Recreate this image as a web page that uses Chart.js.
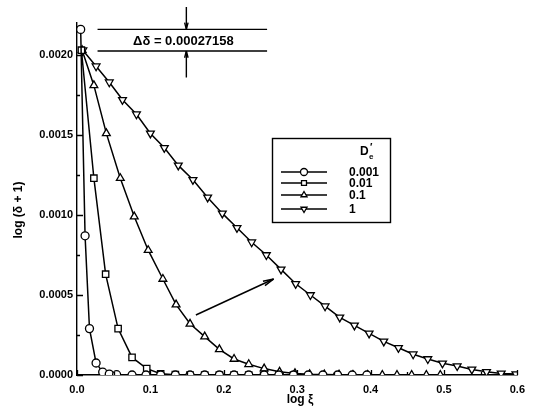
<!DOCTYPE html>
<html>
<head>
<meta charset="utf-8">
<script src="https://cdn.jsdelivr.net/npm/chart.js@4.4.1/dist/chart.umd.min.js"></script>
<style>
  html, body { margin: 0; padding: 0; background: #fff; }
  #wrap { width: 533px; height: 419px; }
</style>
</head>
<body>
<div id="wrap"><canvas id="chart" width="533" height="419"></canvas></div>
<script>
// D_e' = 0.001 (circles)
const xCircle = [0.005, 0.011, 0.017, 0.026, 0.035, 0.044, 0.054, 0.075, 0.094, 0.114, 0.134, 0.154, 0.174, 0.194, 0.214, 0.234, 0.255, 0.275, 0.295, 0.315, 0.335, 0.355, 0.375, 0.395];
const yCircle = [0.00216, 0.00087, 0.00029, 0.000075, 0.000018, 0.000006, 0.000002, 0, 0, 0, 0, 0, 0, 0, 0, 0, 0, 0, 0, 0, 0, 0, 0, 0];

// D_e' = 0.01 (squares)
const xSquare = [0.006, 0.023, 0.039, 0.056, 0.075, 0.095, 0.114, 0.134, 0.154, 0.174, 0.194, 0.214, 0.234, 0.255, 0.275, 0.295];
const ySquare = [0.00203, 0.00123, 0.00063, 0.00029, 0.00011, 0.00004, 0.000008, 0.000002, 0, 0, 0, 0, 0, 0, 0, 0];

// D_e' = 0.1 (triangles)
const xTri = [0.007, 0.023, 0.040, 0.059, 0.078, 0.097, 0.117, 0.135, 0.154, 0.174, 0.194, 0.214, 0.234, 0.255, 0.276, 0.297, 0.317, 0.337, 0.357, 0.376, 0.396, 0.416, 0.436, 0.456, 0.476, 0.495];
const yTri = [0.00203, 0.00181, 0.00151, 0.00123, 0.00099, 0.00078, 0.00060, 0.00044, 0.00032, 0.00024, 0.00016, 0.00010, 0.000067, 0.00004, 0.00002, 0.00001, 0.000005, 0.000003, 0.000002, 0, 0, 0, 0, 0, 0, 0];

// D_e' = 1 (inverted triangles)
const xInv = [0.008, 0.026, 0.044, 0.062, 0.081, 0.100, 0.119, 0.138, 0.158, 0.178, 0.198, 0.218, 0.238, 0.258, 0.278, 0.298, 0.318, 0.338, 0.358, 0.378, 0.398, 0.418, 0.438, 0.458, 0.478, 0.498, 0.518, 0.538, 0.558, 0.578, 0.598];
const yInv = [0.00203, 0.00193, 0.00183, 0.00172, 0.00163, 0.00151, 0.00142, 0.00131, 0.00122, 0.00111, 0.00101, 0.00092, 0.00083, 0.00075, 0.00066, 0.00057, 0.00050, 0.00043, 0.00036, 0.00031, 0.00026, 0.00021, 0.00017, 0.00013, 0.00010, 0.000073, 0.000056, 0.000035, 0.00002, 0.00001, 0.000006];

const seriesLabels = ['0.001', '0.01', '0.1', '1'];
const xTicks = [0, 0.1, 0.2, 0.3, 0.4, 0.5, 0.6];
const yTicks = [0, 0.0005, 0.0010, 0.0015, 0.0020];

const deltaText = 'Δδ = 0.00027158';
const deltaTop = 0.00216;
const deltaBottom = 0.002025;

const FONT = "'Liberation Sans', Arial, sans-serif";
Chart.defaults.font.family = FONT;
Chart.defaults.font.size = 11;
Chart.defaults.font.weight = 'bold';
Chart.defaults.color = '#000';

const toPoints = (xs, ys) => xs.map((x, i) => ({ x: x, y: ys[i] }));

const mkSet = (label, xs, ys, style, radius, rotation) => ({
    label: label,
    data: toPoints(xs, ys),
    showLine: true,
    borderColor: '#000',
    borderWidth: 1.5,
    tension: 0,
    pointStyle: style,
    pointRadius: radius,
    pointRotation: rotation || 0,
    pointBackgroundColor: '#fff',
    pointBorderColor: '#000',
    pointBorderWidth: 1.3
});

const drawMarker = (ctx, ds, r, x, y) => {
    Chart.helpers.drawPoint(ctx, {
        pointStyle: ds.pointStyle, radius: r, rotation: ds.pointRotation, borderWidth: 1.2
    }, x, y);
};

const arrowHead = (ctx, x1, y1, x2, y2, len, spread) => {
    const a = Math.atan2(y2 - y1, x2 - x1);
    ctx.beginPath();
    ctx.moveTo(x2, y2);
    ctx.lineTo(x2 - len * Math.cos(a - spread), y2 - len * Math.sin(a - spread));
    ctx.moveTo(x2, y2);
    ctx.lineTo(x2 - len * Math.cos(a + spread), y2 - len * Math.sin(a + spread));
    ctx.stroke();
};

const decorations = {
    id: 'decorations',
    afterDatasetsDraw(chart) {
        const ctx = chart.ctx;
        const xs = chart.scales.x, ys = chart.scales.y;
        const area = chart.chartArea;
        ctx.save();
        ctx.strokeStyle = '#000';
        ctx.fillStyle = '#000';
        ctx.lineWidth = 1.3;

        // inward ticks
        ctx.beginPath();
        yTicks.forEach(v => {
            const py = Math.round(ys.getPixelForValue(v)) + 0.5;
            ctx.moveTo(area.left, py); ctx.lineTo(area.left + 6, py);
            if (v + 0.00025 < ys.max) {
                const pm = Math.round(ys.getPixelForValue(v + 0.00025)) + 0.5;
                ctx.moveTo(area.left, pm); ctx.lineTo(area.left + 3, pm);
            }
        });
        xTicks.forEach(v => {
            const px = Math.round(xs.getPixelForValue(v)) + 0.5;
            ctx.moveTo(px, area.bottom); ctx.lineTo(px, area.bottom - 5);
            if (v + 0.05 < xs.max) {
                const pm = Math.round(xs.getPixelForValue(v + 0.05)) + 0.5;
                ctx.moveTo(pm, area.bottom); ctx.lineTo(pm, area.bottom - 3);
            }
        });
        ctx.stroke();

        // delta annotation
        const lx1 = xs.getPixelForValue(0.028), lx2 = xs.getPixelForValue(0.259);
        const ly1 = ys.getPixelForValue(deltaTop), ly2 = ys.getPixelForValue(deltaBottom);
        ctx.lineWidth = 1.4;
        ctx.beginPath();
        ctx.moveTo(lx1, ly1); ctx.lineTo(lx2, ly1);
        ctx.moveTo(lx1, ly2); ctx.lineTo(lx2, ly2);
        const ax = xs.getPixelForValue(0.149);
        const aTop = ys.getPixelForValue(0.0023), aBot = ys.getPixelForValue(0.00186);
        ctx.moveTo(ax, aTop); ctx.lineTo(ax, ly1);
        ctx.moveTo(ax, aBot); ctx.lineTo(ax, ly2);
        ctx.stroke();
        arrowHead(ctx, ax, aTop, ax, ly1, 7, 0.25);
        arrowHead(ctx, ax, aBot, ax, ly2, 7, 0.25);
        ctx.font = 'bold 13px ' + FONT;
        ctx.textAlign = 'center';
        ctx.textBaseline = 'middle';
        ctx.fillText(deltaText, xs.getPixelForValue(0.145), (ly1 + ly2) / 2 + 1);

        // trend arrow
        const tx1 = xs.getPixelForValue(0.162), ty1 = ys.getPixelForValue(0.000375);
        const tx2 = xs.getPixelForValue(0.268), ty2 = ys.getPixelForValue(0.0006);
        ctx.lineWidth = 1.5;
        ctx.beginPath(); ctx.moveTo(tx1, ty1); ctx.lineTo(tx2, ty2); ctx.stroke();
        arrowHead(ctx, tx1, ty1, tx2, ty2, 11, 0.22);

        // axis titles
        ctx.font = 'bold 12px ' + FONT;
        ctx.fillText('log ξ', 300, 400);
        ctx.save();
        ctx.translate(19, 210);
        ctx.rotate(-Math.PI / 2);
        ctx.fillText('log (δ + 1)', 0, 0);
        ctx.restore();

        // legend box
        ctx.lineWidth = 1.4;
        ctx.fillStyle = '#fff';
        ctx.fillRect(272, 138, 118, 84);
        ctx.strokeRect(272.5, 138.5, 118, 84);
        ctx.fillStyle = '#000';
        ctx.textAlign = 'left';
        ctx.font = 'bold 12px ' + FONT;
        ctx.fillText('D', 360, 152);
        ctx.font = 'bold 8px ' + FONT;
        ctx.fillText('e', 369, 157);
        ctx.font = 'bold 10px ' + FONT;
        ctx.fillText('\u2032', 370, 148);
        ctx.font = 'bold 12px ' + FONT;
        const rowY = [172, 183, 195, 209];
        chart.data.datasets.forEach((ds, i) => {
            const y = rowY[i];
            ctx.lineWidth = 1.3;
            ctx.strokeStyle = '#000';
            ctx.beginPath(); ctx.moveTo(281, y); ctx.lineTo(327, y); ctx.stroke();
            ctx.fillStyle = '#fff';
            drawMarker(ctx, ds, 3.5, 304, y);
            ctx.fillStyle = '#000';
            ctx.fillText(seriesLabels[i], 349, y + 1);
        });
        ctx.restore();
    }
};

new Chart(document.getElementById('chart'), {
    type: 'scatter',
    data: {
        datasets: [
            mkSet(seriesLabels[0], xCircle, yCircle, 'circle', 4, 0),
            mkSet(seriesLabels[1], xSquare, ySquare, 'rect', 4.5, 0),
            mkSet(seriesLabels[2], xTri, yTri, 'triangle', 4.5, 0),
            mkSet(seriesLabels[3], xInv, yInv, 'triangle', 4.5, 180)
        ]
    },
    options: {
        responsive: false,
        animation: false,
        layout: { padding: { top: 23, right: 11, left: 0, bottom: 0 } },
        plugins: { legend: { display: false }, tooltip: { enabled: false } },
        scales: {
            x: {
                type: 'linear', min: 0, max: 0.6,
                afterFit: s => { s.height = 44; },
                grid: { display: false, drawTicks: false },
                border: { display: true, color: '#000', width: 1.4 },
                ticks: { stepSize: 0.1, includeBounds: false, padding: 8, maxRotation: 0,
                         callback: v => v.toFixed(1) }
            },
            y: {
                type: 'linear', min: 0, max: 0.0022,
                afterFit: s => { s.width = 77; },
                grid: { display: false, drawTicks: false },
                border: { display: true, color: '#000', width: 1.4 },
                ticks: { stepSize: 0.0005, includeBounds: false, padding: 4,
                         callback: v => v.toFixed(4) }
            }
        }
    },
    plugins: [decorations]
});
</script>
</body>
</html>
